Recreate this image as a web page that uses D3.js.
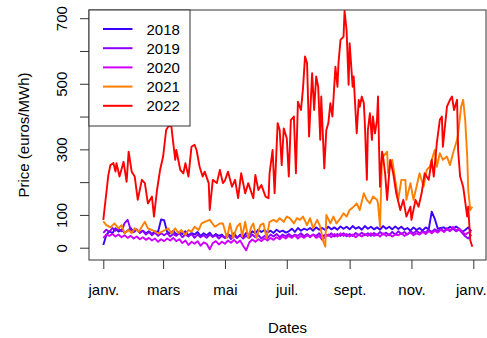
<!DOCTYPE html>
<html>
<head>
<meta charset="utf-8">
<script src="https://cdn.jsdelivr.net/npm/d3@7"></script>
<style>
  body { margin: 0; background: #fff; }
  svg text { font-family: "Liberation Sans", Arial, sans-serif; font-size: 15px; fill: #000; }
</style>
</head>
<body>
<div id="chart"></div>
<script>
// day of year -> price (euros/MWh)
const years = ["2018", "2019", "2020", "2021", "2022"];
const colors = ["#3d00ff", "#8c00ff", "#cf00ff", "#ff7f00", "#ff0000"];

// 2018, 2019, 2020 read every 3 days (day 0, 3, 6, ...)
const price2018 = [
  8, 39, 50, 44, 59, 49, 55, 45, 52, 60,
  48, 55, 46, 52, 44, 50, 42, 50, 48, 86,
  84, 48, 44, 52, 40, 48, 42, 50, 38, 45,
  40, 48, 36, 44, 38, 46, 34, 42, 36, 40,
  30, 42, 35, 44, 30, 40, 34, 45, 38, 50,
  44, 55, 48, 54, 46, 52, 45, 55, 48, 52,
  46, 50, 58, 48, 60, 52, 58, 54, 60, 52,
  62, 55, 60, 54, 64, 56, 62, 55, 65, 58,
  64, 56, 66, 58, 63, 55, 66, 58, 64, 56,
  62, 55, 66, 58, 64, 56, 65, 57, 64, 55,
  60, 52, 62, 54, 60, 52, 62, 56, 110, 88,
  58, 60, 62, 55, 64, 58, 65, 58, 48, 54,
  62, 50
];
const price2019 = [
  45, 55, 48, 60, 52, 58, 50, 75, 85, 55,
  48, 56, 45, 52, 40, 48, 38, 46, 36, 44,
  38, 45, 34, 42, 36, 44, 32, 40, 34, 42,
  30, 40, 32, 38, 30, 40, 33, 38, 28, 36,
  30, 38, 26, 36, 30, 38, 28, 36, 30, 40,
  32, 38, 28, 36, 30, 40, 34, 42, 32, 40,
  35, 42, 34, 40, 36, 44, 35, 42, 34, 40,
  36, 44, 34, 40, 36, 44, 34, 42, 36, 44,
  35, 42, 36, 45, 38, 46, 38, 44, 36, 45,
  38, 48, 40, 46, 38, 48, 40, 50, 42, 48,
  40, 50, 44, 52, 44, 50, 46, 55, 48, 56,
  50, 58, 50, 60, 52, 58, 50, 55, 45, 35,
  28, 40
];
const price2020 = [
  30, 40, 36, 42, 34, 40, 32, 38, 30, 36,
  28, 34, 26, 32, 24, 30, 22, 28, 18, 26,
  20, 28, 22, 30, 20, 26, 14, 22, 8, 18,
  12, 20, 6, 16, 12, -5, 14, 20, 10, 18,
  12, 22, 15, 24, 14, 22, 5, -8, 16, 25,
  18, 26, 20, 28, 22, 30, 24, 32, 26, 34,
  28, 36, 30, 38, 28, 36, 30, 38, 32, 40,
  30, 36, 24, 34, 40, 32, 42, 34, 44, 36,
  42, 34, 40, 32, 40, 34, 42, 36, 44, 36,
  42, 34, 44, 36, 42, 34, 40, 38, 44, 36,
  42, 46, 38, 44, 40, 48, 42, 50, 44, 52,
  46, 55, 48, 56, 50, 64, 52, 58, 50, 40,
  46, 48
];

// 2021 and 2022 as [day of year, price]
const price2021 = [
  [0,80],[3,69],[7,62],[11,74],[15,59],[18,69],[21,44],[25,54],[28,44],[31,59],
  [35,49],[38,64],[41,79],[44,59],[48,54],[51,49],[54,44],[58,49],[61,54],[64,59],
  [67,44],[71,59],[74,44],[77,54],[81,39],[84,54],[87,49],[90,64],[94,54],[97,74],
  [100,79],[105,85],[110,64],[115,74],[118,74],[122,30],[125,74],[128,30],[132,64],[135,74],
  [137,34],[140,79],[143,30],[146,64],[148,74],[151,30],[155,69],[158,74],[161,30],[164,79],
  [168,85],[171,79],[174,90],[178,79],[181,95],[184,90],[188,74],[191,90],[194,85],[197,95],
  [201,69],[204,90],[207,59],[211,85],[214,64],[217,20],[219,3],[220,100],[224,74],[227,95],
  [230,74],[234,90],[237,105],[240,95],[243,115],[247,125],[250,135],[253,115],[257,166],[260,146],
  [263,135],[266,156],[270,146],[271,135],[273,64],[275,288],[276,278],[280,293],[281,227],[285,268],
  [288,207],[291,146],[294,207],[298,207],[299,146],[303,197],[306,146],[309,186],[312,227],[316,186],
  [319,237],[322,247],[326,288],[327,298],[329,247],[332,288],[335,268],[339,278],[342,252],[345,288],
  [349,329],[350,349],[353,430],[355,451],[357,390],[359,278],[360,176],[362,115],[364,125]
];
const price2022 = [
  [0,85],[2,140],[5,222],[7,252],[10,258],[12,232],[13,258],[16,217],[20,262],[23,201],
  [25,293],[28,232],[31,217],[34,146],[38,207],[41,197],[44,135],[48,156],[50,95],[53,176],
  [56,237],[59,278],[62,359],[64,369],[67,374],[69,319],[71,268],[72,298],[76,237],[79,227],
  [81,258],[84,217],[87,308],[90,314],[92,298],[95,247],[98,217],[100,232],[104,197],[105,115],
  [108,207],[112,197],[115,237],[118,197],[120,205],[123,232],[127,186],[130,207],[133,151],[136,227],
  [140,166],[143,197],[148,151],[150,222],[153,176],[156,191],[160,156],[163,151],[164,227],[167,298],
  [169,166],[172,380],[174,359],[176,252],[178,364],[181,334],[183,217],[185,389],[188,400],[190,227],
  [192,445],[195,420],[197,486],[199,583],[201,563],[203,339],[206,532],[208,420],[210,522],[212,491],
  [214,329],[215,461],[218,242],[220,359],[222,380],[224,441],[226,400],[229,552],[231,491],[232,563],
  [234,634],[237,644],[238,722],[240,664],[242,497],[243,624],[246,491],[247,522],[248,461],[250,349],
  [252,451],[253,430],[255,461],[257,441],[258,380],[260,207],[261,359],[263,410],[265,329],[266,400],
  [268,349],[270,390],[271,461],[272,308],[273,186],[275,293],[276,278],[278,227],[280,146],[283,268],
  [286,227],[289,166],[293,115],[296,146],[299,95],[303,125],[304,85],[308,146],[311,125],[314,166],
  [317,227],[321,207],[324,268],[326,217],[329,319],[332,390],[334,400],[335,308],[339,430],[342,451],
  [344,461],[346,420],[349,451],[350,298],[352,217],[355,186],[359,95],[360,125],[362,23],[364,3]
];

const yTicks = [0, 100, 200, 300, 400, 500, 600, 700];
const yLabels = [0, 100, 300, 500, 700];
const monthTicks = [0, 2, 4, 6, 8, 10, 12];
const monthLabels = ["janv.", "mars", "mai", "juil.", "sept.", "nov.", "janv."];

const width = 487, height = 338;
const plot = {left: 89, right: 486, top: 10, bottom: 260};

const toDate = d => new Date(2022, 0, 1 + d);
const every3 = arr => arr.map((v, i) => [i * 3, v]);
const series = [every3(price2018), every3(price2019), every3(price2020), price2021, price2022];

const svg = d3.select("#chart").append("svg")
  .attr("width", width)
  .attr("height", height);

const x = d3.scaleTime()
  .domain([new Date(2022, 0, 1), new Date(2023, 0, 1)])
  .range([103.3, 473.3]);
const y = d3.scaleLinear()
  .domain([-37.5, 725])
  .range([plot.bottom, plot.top]);

const line = d3.line()
  .x(d => x(toDate(d[0])))
  .y(d => y(d[1]));

svg.append("g")
  .selectAll("path")
  .data(series)
  .enter()
  .append("path")
  .attr("d", d => line(d))
  .attr("fill", "none")
  .attr("stroke", (d, i) => colors[i])
  .attr("stroke-width", 1.9)
  .attr("stroke-linejoin", "round");

// x axis
const xAxis = svg.append("g")
  .attr("transform", "translate(0," + plot.bottom + ")")
  .call(d3.axisBottom(x)
    .tickValues(monthTicks.map(m => new Date(2022, m, 1)))
    .tickFormat((d, i) => monthLabels[i])
    .tickSize(9));
xAxis.select(".domain").remove();
xAxis.selectAll("line").attr("stroke", "#333");
xAxis.selectAll("text").attr("y", 35).attr("dy", 0).style("font-size", "15px").style("font-family", null);
// keep the last label inside the page
xAxis.selectAll("text").filter((d, i) => i === monthLabels.length - 1).attr("x", -2.5);

// y axis
const yAxis = svg.append("g")
  .attr("transform", "translate(" + plot.left + ",0)")
  .call(d3.axisLeft(y)
    .tickValues(yTicks)
    .tickFormat(d => yLabels.includes(d) ? d : "")
    .tickSize(9));
yAxis.select(".domain").remove();
yAxis.selectAll("line").attr("stroke", "#333");
yAxis.selectAll("text")
  .attr("transform", "rotate(-90)")
  .attr("x", 0)
  .attr("y", -22)
  .attr("dy", 0)
  .attr("text-anchor", "middle")
  .style("font-size", "15px").style("font-family", null);

// plot box
svg.append("rect")
  .attr("x", plot.left).attr("y", plot.top)
  .attr("width", plot.right - plot.left).attr("height", plot.bottom - plot.top)
  .attr("fill", "none").attr("stroke", "#333");

// axis titles
svg.append("text")
  .attr("x", (plot.left + plot.right) / 2)
  .attr("y", 333)
  .attr("text-anchor", "middle")
  .text("Dates");
svg.append("text")
  .attr("transform", "translate(29,135) rotate(-90)")
  .attr("text-anchor", "middle")
  .text("Price (euros/MWh)");

// legend
const legend = svg.append("g");
legend.append("rect")
  .attr("x", plot.left).attr("y", plot.top)
  .attr("width", 101).attr("height", 116)
  .attr("fill", "#fff").attr("stroke", "#333");
years.forEach((yr, i) => {
  const ly = 29 + i * 19.2;
  legend.append("line")
    .attr("x1", 103).attr("x2", 132.5)
    .attr("y1", ly).attr("y2", ly)
    .attr("stroke", colors[i]).attr("stroke-width", 2);
  legend.append("text")
    .attr("x", 146.5).attr("y", ly + 5.5)
    .text(yr);
});
</script>
</body>
</html>
